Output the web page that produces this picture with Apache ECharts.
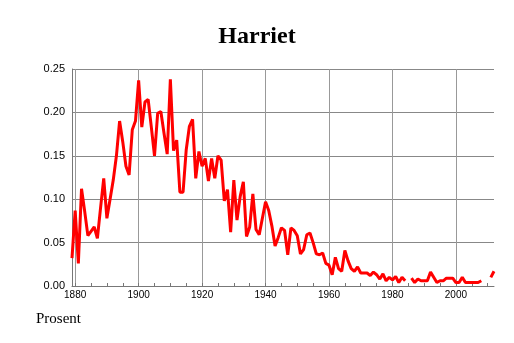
<!DOCTYPE html>
<html>
<head>
<meta charset="utf-8">
<script src="https://cdn.jsdelivr.net/npm/echarts@6/dist/echarts.min.js"></script>
<style>html,body{margin:0;padding:0;background:#fff}#c{width:514px;height:343px}</style>
</head>
<body>
<div id="c"></div>
<script>
const chartTitle = 'Harriet';
const yLabelText = 'Prosent';
const firstYear = 1879;
const values = [
  0.032, 0.087, 0.026, 0.112, 0.086, 0.058, 0.063, 0.068, 0.055, 0.090, // 1879-1888
  0.124, 0.078, 0.100, 0.122, 0.150, 0.190, 0.166, 0.138, 0.128, 0.180, // 1889-1898
  0.190, 0.237, 0.183, 0.212, 0.215, 0.183, 0.150, 0.199, 0.201, 0.176, // 1899-1908
  0.152, 0.238, 0.156, 0.168, 0.108, 0.108, 0.157, 0.184, 0.192, 0.124, // 1909-1918
  0.155, 0.138, 0.147, 0.121, 0.147, 0.124, 0.150, 0.145, 0.098, 0.111, // 1919-1928
  0.062, 0.122, 0.076, 0.103, 0.120, 0.057, 0.068, 0.106, 0.065, 0.059, // 1929-1938
  0.078, 0.097, 0.087, 0.069, 0.046, 0.056, 0.067, 0.064, 0.036, 0.067, // 1939-1948
  0.064, 0.058, 0.037, 0.042, 0.059, 0.061, 0.050, 0.037, 0.036, 0.038, // 1949-1958
  0.026, 0.024, 0.013, 0.033, 0.020, 0.017, 0.041, 0.029, 0.020, 0.017, // 1959-1968
  0.022, 0.015, 0.015, 0.015, 0.012, 0.016, 0.013, 0.008, 0.014, 0.006, // 1969-1978
  0.010, 0.007, 0.011, 0.004, 0.010, 0.006, null,  0.009, 0.004, 0.008, // 1979-1988
  0.006, 0.006, 0.006, 0.016, 0.010, 0.004, 0.006, 0.006, 0.009, 0.009, // 1989-1998
  0.009, 0.004, 0.004, 0.010, 0.004, 0.004, 0.004, 0.004, 0.004, 0.006, // 1999-2008
  null,  null,  0.010, 0.017                                            // 2009-2012
];
const years = values.map((v, i) => firstYear + i);
const xTickValues = [1880,1885,1890,1895,1900,1905,1910,1915,1920,1925,1930,1935,1940,1945,1950,1955,1960,1965,1970,1975,1980,1985,1990,1995,2000,2005,2010];
const xLabelValues = [1880, 1900, 1920, 1940, 1960, 1980, 2000];

const seriesData = years.map((y, i) => [y, values[i] === null ? '-' : values[i]]);

const chart = echarts.init(document.getElementById('c'), null, {renderer: 'canvas'});
chart.setOption({
  animation: false,
  backgroundColor: '#ffffff',
  title: [
    {
      text: chartTitle, left: 'center', top: 20,
      textStyle: {fontFamily: 'Liberation Serif', fontWeight: 'bold', fontSize: 24, color: '#000'}
    },
    {
      text: yLabelText, left: 31, top: 307,
      textStyle: {fontFamily: 'Liberation Serif', fontWeight: 'normal', fontSize: 15, color: '#000'}
    }
  ],
  grid: {left: 72, right: 20, top: 69, bottom: 57, containLabel: false},
  xAxis: [
    {
      type: 'value', min: firstYear, max: years[years.length - 1],
      axisLine: {show: true, onZero: false, lineStyle: {color: '#777', width: 1}},
      axisTick: {show: true, inside: true, length: 3, customValues: xTickValues, lineStyle: {color: '#777'}},
      axisLabel: {show: true, customValues: xLabelValues, margin: 4, color: '#000', fontFamily: 'Liberation Sans', fontSize: 10, formatter: v => String(v)},
      splitLine: {show: false}
    },
    {
      type: 'value', min: firstYear, max: years[years.length - 1], position: 'bottom',
      axisLine: {show: false},
      axisTick: {show: false, customValues: xLabelValues},
      axisLabel: {show: false},
      splitLine: {show: true, lineStyle: {color: '#999', width: 1}}
    }
  ],
  yAxis: {
    type: 'value', min: 0, max: 0.25, interval: 0.05,
    axisLine: {show: true, lineStyle: {color: '#777', width: 1}},
    axisTick: {show: false},
    axisLabel: {margin: 7, color: '#000', fontFamily: 'Liberation Sans', fontSize: 11, formatter: v => v.toFixed(2)},
    splitLine: {show: true, lineStyle: {color: '#888', width: 1}}
  },
  series: [{
    type: 'line', xAxisIndex: 0, data: seriesData, showSymbol: false, symbol: 'none',
    connectNulls: false, clip: true,
    lineStyle: {color: '#ff0000', width: 3}, z: 3
  }]
});
</script>
</body>
</html>
